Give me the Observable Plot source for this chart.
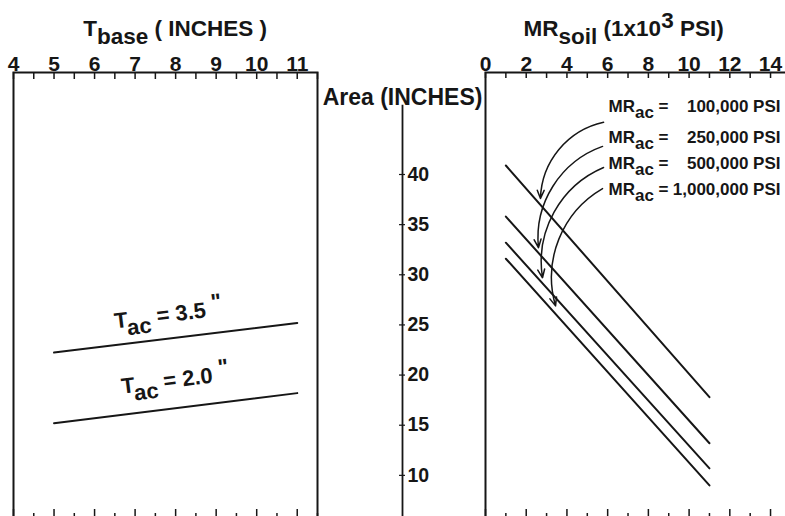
<!DOCTYPE html>
<html><head><meta charset="utf-8">
<script src="https://cdn.jsdelivr.net/npm/d3@7"></script>
<script src="https://cdn.jsdelivr.net/npm/@observablehq/plot@0.6"></script>
<style>
html,body{margin:0;padding:0;background:#fff;overflow:hidden;width:785px;height:516px}
#chart{position:relative;width:785px;height:516px;overflow:hidden;background:#fff}
#chart svg{position:absolute;left:0;top:0;background:transparent !important;max-width:none !important;overflow:visible}
</style></head><body><div id="chart"></div>
<script>
// ---------------- data ----------------
const tbaseTicks = [4, 5, 6, 7, 8, 9, 10, 11];
const mrSoilTicks = [0, 2, 4, 6, 8, 10, 12, 14];
const areaTicks = [10, 15, 20, 25, 30, 35, 40];

// left panel: T_ac lines, area vs T_base
const tacNames = ["3.5", "2.0"];
const tacBase = [5, 11];
const tac35 = [22.25, 25.2];
const tac20 = [15.2, 18.2];

// right panel: MR_ac lines, area vs MR_soil (x1000 psi)
const mrAcNames = ["100,000 PSI", "250,000 PSI", "500,000 PSI", "1,000,000 PSI"];
const mrSoil = [1, 11];
const mr100k = [40.9, 17.8];
const mr250k = [35.8, 13.2];
const mr500k = [33.2, 10.7];
const mr1m = [31.6, 9.0];

// annotation anchors (data units)
const tacLabelX = [7.82, 7.99];
const tacLabelY = [26.0, 19.5];
const mrLabelY = [46.8, 43.7, 41.1, 38.5];
const mrLabelX1 = 6.04, mrLabelX2 = 14.49;
const arrowX1 = [5.80, 5.75, 5.80, 5.75];
const arrowY1 = [45.2, 42.8, 40.7, 38.6];
const arrowX2 = [2.70, 2.60, 2.80, 3.44];
const arrowY2 = [37.6, 32.7, 29.7, 26.9];

// ---------------- tables ----------------
const tacRows = [];
[tac35, tac20].forEach((s, i) => tacBase.forEach((t, j) => tacRows.push({t, a: s[j], s: tacNames[i]})));
const mrRows = [];
[mr100k, mr250k, mr500k, mr1m].forEach((s, i) => mrSoil.forEach((m, j) => mrRows.push({m, a: s[j], s: mrAcNames[i]})));
const tacLabels = tacNames.map((n, i) => ({x: tacLabelX[i], y: tacLabelY[i], text: `T_{ac} = ${n} ^{"}`}));
const mrLabels = mrAcNames.map((n, i) => ({y: mrLabelY[i], eq: "MR_{ac} =", val: n}));
const arrows = mrAcNames.map((n, i) => ({x1: arrowX1[i], y1: arrowY1[i], x2: arrowX2[i], y2: arrowY2[i]}));

// ---------------- layout ----------------
const W = 785, H = 522, TOP = 72, IN = H - TOP;
const ink = "#161616";
const Y = {domain: [5.3, 50.17], axis: null};
const style = {background: "transparent", maxWidth: "none", overflow: "visible",
  fontFamily: '"Liberation Sans", Arial, Helvetica, sans-serif', fontWeight: "bold", fontSize: "20px", color: ink};

const tbaseMinor = d3.range(4, 11.51, 0.5);
const mrMinor = d3.range(0, 15.01, 1);

const left = Plot.plot({
  width: W, height: H, marginTop: TOP, marginBottom: 0, marginLeft: 13, marginRight: W - 317,
  x: {domain: [4, 11.5], axis: null}, y: Y, style,
  marks: [
    Plot.tickX(tbaseMinor, {x: d => d, insetBottom: IN - 7, stroke: ink, strokeWidth: 1.5}),
    Plot.tickX(tbaseMinor.filter(d => !Number.isInteger(d)), {x: d => d, insetTop: IN - 9, stroke: ink, strokeWidth: 1.5}),
    Plot.tickX(tbaseMinor.filter(d => Number.isInteger(d)), {x: d => d, insetTop: IN - 13, stroke: ink, strokeWidth: 1.5}),
    Plot.axisX({anchor: "top", ticks: tbaseTicks, tickSize: 0, tickPadding: 2, label: null, fontSize: 21, fill: ink}),
    Plot.line(tacRows, {x: "t", y: "a", z: "s", stroke: ink, strokeWidth: 2}),
    Plot.text(tacLabels, {x: "x", y: "y", text: "text", rotate: -7, fontSize: 22, fill: ink}),
    Plot.text([{x: 5.72, t: "T_{base} ( INCHES )"}], {x: "x", text: "t", frameAnchor: "top", textAnchor: "start", lineAnchor: "bottom", dy: -37, fontSize: 22.5, fill: ink}),
    Plot.frame({stroke: ink, strokeWidth: 2})
  ]
});

const middle = Plot.plot({
  width: W, height: H, marginTop: TOP, marginBottom: 0, marginLeft: 399, marginRight: W - 405,
  x: {domain: [-1, 1], axis: null}, y: Y, style,
  marks: [
    Plot.ruleX([0], {x: d => d, y1: 46.9, y2: 5.3, stroke: ink, strokeWidth: 1.8}),
    Plot.ruleY(areaTicks, {y: d => d, x1: -1, x2: 1, stroke: ink, strokeWidth: 1.2}),
    Plot.text(areaTicks, {y: d => d, x: () => 1, text: d => d, dx: 2, textAnchor: "start", fontSize: 19.5, fill: ink}),
    Plot.text(["Area (INCHES)"], {text: d => d, frameAnchor: "top", dy: 16, fontSize: 23, fill: ink})
  ]
});

const RW = 800;
const right = Plot.plot({
  width: RW, height: H, marginTop: TOP, marginBottom: 0, marginLeft: 485, marginRight: 0,
  x: {domain: [0, (RW - 485) / 20.36], axis: null}, y: Y, style,
  marks: [
    Plot.tickX(mrMinor, {x: d => d, insetBottom: IN - 6, stroke: ink, strokeWidth: 1.5}),
    Plot.tickX(mrMinor.filter(d => d % 2), {x: d => d, insetTop: IN - 9, stroke: ink, strokeWidth: 1.5}),
    Plot.tickX(mrMinor.filter(d => !(d % 2)), {x: d => d, insetTop: IN - 13, stroke: ink, strokeWidth: 1.5}),
    Plot.axisX({anchor: "top", ticks: mrSoilTicks, tickSize: 0, tickPadding: 2, label: null, fontSize: 21, fill: ink}),
    Plot.line(mrRows, {x: "m", y: "a", z: "s", stroke: ink, strokeWidth: 2}),
    Plot.arrow(arrows, {x1: "x1", y1: "y1", x2: "x2", y2: "y2", bend: -38, headLength: 9, headAngle: 45, stroke: ink, strokeWidth: 1.5}),
    Plot.text(mrLabels, {x: () => mrLabelX1, y: "y", text: "eq", textAnchor: "start", fontSize: 17, fill: ink}),
    Plot.text(mrLabels, {x: () => mrLabelX2, y: "y", text: "val", textAnchor: "end", fontSize: 17, fill: ink}),
    Plot.text([{x: 1.87, t: "MR_{soil} (1x10^{3} PSI)"}], {x: "x", text: "t", frameAnchor: "top", textAnchor: "start", lineAnchor: "bottom", dy: -37, fontSize: 22.5, fill: ink}),
    Plot.frame({stroke: ink, strokeWidth: 2})
  ]
});

// turn _{..} / ^{..} markup into real sub/superscript tspans
function richText(svg) {
  d3.select(svg).selectAll("text").each(function () {
    if (this.querySelector("tspan")) return;
    const t = this.textContent;
    if (!/[_^]\{/.test(t)) return;
    const parts = [], re = /([_^])\{([^}]*)\}/g;
    let last = 0, m;
    while ((m = re.exec(t))) {
      if (m.index > last) parts.push({s: t.slice(last, m.index), k: 0});
      parts.push({s: m[2], k: m[1] === "_" ? 1 : -1});
      last = re.lastIndex;
    }
    if (last < t.length) parts.push({s: t.slice(last), k: 0});
    const sel = d3.select(this);
    sel.text(null);
    let cur = 0;
    for (const p of parts) {
      const off = p.k === 1 ? 0.38 : p.k === -1 ? -0.32 : 0;
      const ts = sel.append("tspan").text(p.s);
      if (off !== cur) ts.attr("dy", (off - cur) + "em");
      cur = off;
    }
  });
}

const chart = document.getElementById("chart");
for (const p of [left, middle, right]) { richText(p); chart.appendChild(p); }
</script></body></html>
